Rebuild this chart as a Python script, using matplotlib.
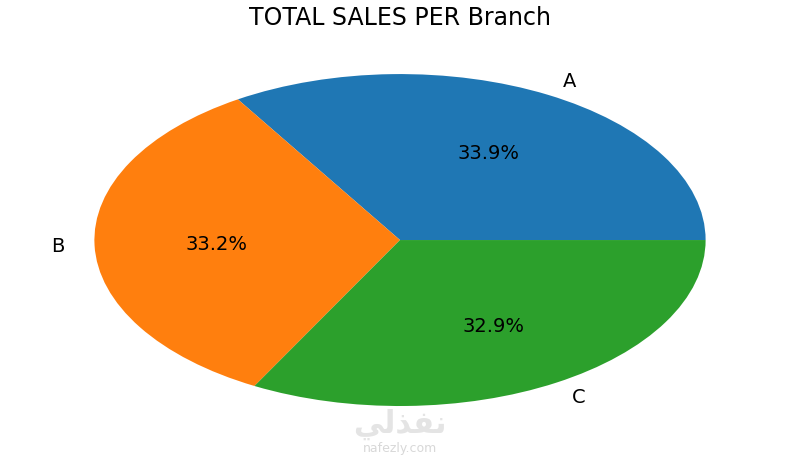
import matplotlib.pyplot as plt

# branch sales share
branches = ["A", "B", "C"]
shares = [33.9, 33.2, 32.9]
colors = ["#1f77b4", "#ff7f0e", "#2ca02c"]

fig = plt.figure(figsize=(8, 4.6), dpi=100)
ax = fig.add_axes([0.0225, 0.025, 0.955, 0.902])

wedges, texts, autotexts = ax.pie(
    shares, labels=branches, colors=colors, autopct="%1.1f%%",
    textprops={"fontsize": 14},
)
ax.set_aspect("auto")
ax.set_xlim(-1.25, 1.25)
ax.set_ylim(-1.25, 1.25)

fig.text(0.5, 0.96, "TOTAL SALES PER Branch", ha="center", va="center",
         fontsize=17)

# watermark
fig.text(0.5, 0.078, "\uFEF2\uFEDF\uFEAC\uFED4\uFEE7", ha="center", va="center",
         fontsize=22, color="#e4e4e4", fontweight="bold")
fig.text(0.5, 0.025, "nafezly.com", ha="center", va="center",
         fontsize=9, color="#d8d8d8")

fig.savefig("out.png", dpi=100)
